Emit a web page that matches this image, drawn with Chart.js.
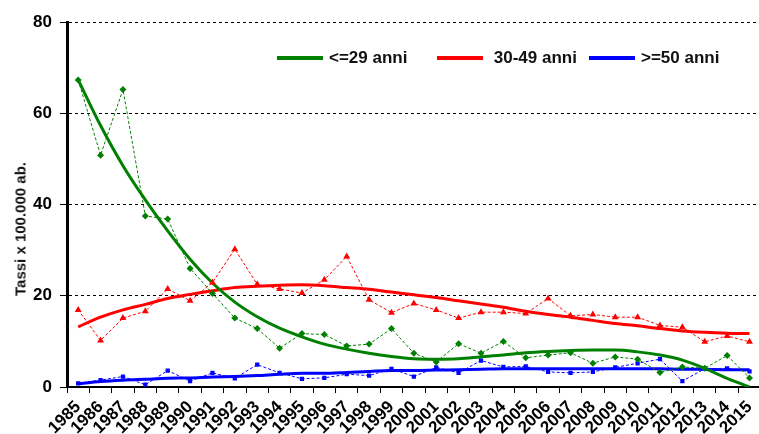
<!DOCTYPE html>
<html lang="it">
<head>
  <meta charset="UTF-8">
  <title>Tassi x 100.000 ab. per classe di eta</title>
  <script src="https://cdn.jsdelivr.net/npm/chart.js"></script>
  <style>
    html, body {
      margin: 0;
      padding: 0;
      width: 759px;
      height: 434px;
      overflow: hidden;
      background: #fff;
      font-family: "Liberation Sans", Arial, sans-serif;
    }
    /* the plot runs a little past the right edge, as in the original */
    .chart-container {
      position: absolute;
      left: 0;
      top: 0;
      width: 768px;
      height: 434px;
    }
    .legend {
      position: absolute;
      top: 48px;
      font-weight: bold;
      font-size: 17px;
      line-height: 20px;
      color: #111;
      white-space: nowrap;
    }
    .legend .swatch {
      display: inline-block;
      width: 46px;
      height: 4px;
      vertical-align: middle;
      margin-right: 6px;
      position: relative;
      top: -1px;
    }
    /* y axis title, placed by hand because it sits below the middle of the axis */
    .y-title {
      position: absolute;
      left: 20px;
      top: 229px;
      transform: translate(-50%, -50%) rotate(-90deg);
      font-weight: bold;
      font-size: 15px;
      color: #111;
      white-space: nowrap;
    }
  </style>
</head>
<body>
  <div class="chart-container">
    <canvas id="tassi"></canvas>
  </div>

  <div class="y-title">Tassi x 100.000 ab.</div>
  <div class="legend" style="left:277px"><span class="swatch" style="background:#008000"></span>&lt;=29 anni</div>
  <div class="legend" style="left:437px"><span class="swatch" style="background:#ff0000"></span> 30-49 anni</div>
  <div class="legend" style="left:589px"><span class="swatch" style="background:#0000ff"></span>&gt;=50 anni</div>

  <script>
    const anni = ['1985', '1986', '1987', '1988', '1989', '1990', '1991', '1992', '1993', '1994',
      '1995', '1996', '1997', '1998', '1999', '2000', '2001', '2002', '2003', '2004',
      '2005', '2006', '2007', '2008', '2009', '2010', '2011', '2012', '2013', '2014', '2015'];

    // observed rates (dashed lines with markers)
    const under29 = [67.3, 50.8, 65.2, 37.5, 36.8, 26.0, 20.5, 15.1, 12.8, 8.5,
      11.7, 11.5, 9.0, 9.4, 12.8, 7.4, 5.5, 9.5, 7.4, 10.0,
      6.4, 7.0, 7.5, 5.2, 6.6, 6.1, 3.2, 4.4, 4.1, 6.9, 2.0];
    const age30to49 = [16.9, 10.2, 15.1, 16.6, 21.5, 18.9, 22.9, 30.2, 22.5, 21.5,
      20.6, 23.5, 28.6, 19.1, 16.3, 18.3, 16.9, 15.1, 16.4, 16.4,
      16.1, 19.4, 15.6, 15.9, 15.3, 15.3, 13.5, 13.1, 9.9, 11.2, 9.9];
    const over50 = [0.8, 1.5, 2.3, 0.5, 3.6, 1.3, 3.1, 1.9, 4.9, 3.1,
      1.8, 2.0, 2.8, 2.5, 4.0, 2.3, 4.3, 3.1, 5.8, 4.4,
      4.5, 3.3, 3.1, 3.3, 4.3, 5.2, 6.1, 1.3, 4.0, 4.1, 3.4];

    // trend lines (thick)
    const trendUnder29 = [67.3, 57.3, 48.5, 41.0, 34.2, 28.0, 22.8, 18.6, 15.4, 12.9,
      11.0, 9.4, 8.3, 7.4, 6.7, 6.2, 6.1, 6.2, 6.6, 7.0,
      7.5, 7.8, 8.0, 8.1, 8.1, 7.7, 7.0, 5.9, 4.1, 1.9, 0];
    const trend30to49 = [13.2, 15.3, 16.9, 18.1, 19.4, 20.3, 21.1, 21.8, 22.1, 22.3,
      22.4, 22.2, 21.8, 21.4, 20.8, 20.2, 19.6, 18.9, 18.2, 17.5,
      16.6, 15.9, 15.3, 14.6, 13.9, 13.4, 12.8, 12.3, 12.0, 11.8, 11.7];
    const trendOver50 = [0.7, 1.2, 1.5, 1.7, 1.9, 2.0, 2.2, 2.3, 2.5, 2.8,
      3.0, 3.0, 3.2, 3.4, 3.6, 3.6, 3.7, 3.8, 3.9, 4.0,
      4.0, 4.0, 4.0, 4.0, 4.0, 4.0, 4.0, 3.9, 3.9, 3.8, 3.8];

    const yTicks = [0, 20, 40, 60, 80];

    const GREEN = '#008000', RED = '#ff0000', BLUE = '#0000ff';
    const FONT = '"Liberation Sans", Arial, sans-serif';

    function observed(label, data, color, style, radius) {
      return {
        label: label,
        data: data,
        borderColor: color,
        backgroundColor: color,
        borderWidth: 1,
        borderDash: [3, 2],
        pointStyle: style,
        pointRadius: radius,
        pointBorderWidth: 0,
        tension: 0
      };
    }

    function trend(label, data, color) {
      return {
        label: label,
        data: data,
        borderColor: color,
        backgroundColor: color,
        borderWidth: 3,
        pointRadius: 0,
        cubicInterpolationMode: 'monotone'
      };
    }

    new Chart(document.getElementById('tassi'), {
      type: 'line',
      data: {
        labels: anni,
        datasets: [
          observed('<=29 anni (dati)', under29, GREEN, 'rectRot', 3.5),
          observed('30-49 anni (dati)', age30to49, RED, 'triangle', 4),
          observed('>=50 anni (dati)', over50, BLUE, 'rect', 3),
          trend('<=29 anni', trendUnder29, GREEN),
          trend('30-49 anni', trend30to49, RED),
          trend('>=50 anni', trendOver50, BLUE)
        ]
      },
      options: {
        responsive: true,
        maintainAspectRatio: false,
        animation: false,
        layout: { padding: { top: 22, right: 0, left: 0, bottom: 0 } },
        plugins: {
          legend: { display: false },
          tooltip: { enabled: false }
        },
        scales: {
          x: {
            offset: true,
            grid: {
              offset: true,
              drawOnChartArea: false,
              color: '#000',
              tickLength: 6
            },
            border: { color: '#000', width: 2 },
            ticks: {
              autoSkip: false,
              minRotation: 45,
              maxRotation: 45,
              padding: 4,
              color: '#000',
              font: { family: FONT, size: 17, weight: 'bold' }
            },
            afterFit: (scale) => { scale.height = 47; }
          },
          y: {
            min: 0,
            max: 80,
            afterBuildTicks: (scale) => {
              scale.ticks = yTicks.map(v => ({ value: v }));
            },
            grid: {
              color: (ctx) => ctx.tick && ctx.tick.value === 0 ? 'rgba(0,0,0,0)' : '#000',
              tickColor: '#000',
              tickLength: 7,
              lineWidth: 1
            },
            border: { color: '#000', width: 3, dash: [3, 3] },
            ticks: {
              padding: 8,
              color: '#000',
              font: { family: FONT, size: 17, weight: 'bold' }
            },
            afterFit: (scale) => { scale.width = 67; }
          }
        }
      }
    });
  </script>
</body>
</html>
